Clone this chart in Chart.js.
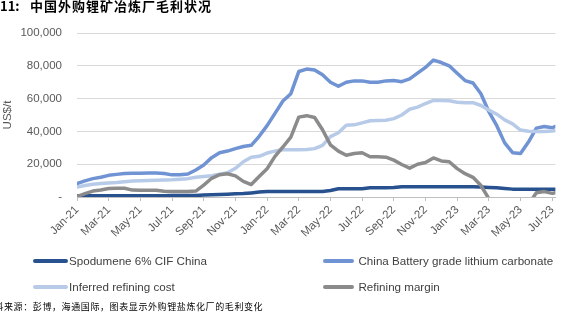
<!DOCTYPE html>
<html><head><meta charset="utf-8">
<script src="https://cdn.jsdelivr.net/npm/chart.js@4.4.0/dist/chart.umd.min.js"></script>
<style>
html,body{margin:0;padding:0;background:#fff;}
#wrap{position:relative;width:564px;height:322px;overflow:hidden;background:#fff;}
canvas{position:absolute;left:0;top:0;}
#title{position:absolute;left:0;top:-1px;font:bold 13px "Noto Sans CJK SC";letter-spacing:1px;color:#000;white-space:nowrap;line-height:14px;}
#title .n{display:inline-block;width:30px;letter-spacing:0;}
#footer{position:absolute;left:-5.6px;top:301px;font:9px "Noto Sans CJK SC";letter-spacing:0.6px;color:#000;white-space:nowrap;line-height:11px;}
.lg{position:absolute;height:14px;font:11.6px "Liberation Sans";color:#404040;white-space:nowrap;line-height:14px;}
.lg .s{position:absolute;top:5.3px;height:3.5px;border-radius:2px;}
.lg .t{position:absolute;top:0;}
</style></head>
<body><div id="wrap"><canvas id="c" width="564" height="322"></canvas><div id="title"><span class="n">11:</span>中国外购锂矿冶炼厂毛利状况</div><div id="legend"></div><div id="footer">料来源：彭博，海通国际，图表显示外购锂盐炼化厂的毛利变化</div></div>
<script>
const dates = [
"2021-01-01","2021-01-16","2021-02-01","2021-02-16","2021-03-01","2021-03-16","2021-04-01","2021-04-16",
"2021-05-01","2021-05-16","2021-06-01","2021-06-16","2021-07-01","2021-07-16","2021-08-01","2021-08-16",
"2021-09-01","2021-09-16","2021-10-01","2021-10-16","2021-11-01","2021-11-16","2021-12-01","2021-12-16",
"2022-01-01","2022-01-16","2022-02-01","2022-02-16","2022-03-01","2022-03-16","2022-04-01","2022-04-16",
"2022-05-01","2022-05-16","2022-06-01","2022-06-16","2022-07-01","2022-07-16","2022-08-01","2022-08-16",
"2022-09-01","2022-09-16","2022-10-01","2022-10-16","2022-11-01","2022-11-16","2022-12-01","2022-12-16",
"2023-01-01","2023-01-16","2023-02-01","2023-02-16","2023-03-01","2023-03-16","2023-04-01","2023-04-16",
"2023-05-01","2023-05-16","2023-06-01","2023-06-16","2023-07-01","2023-07-07"];

const tickLabels = ["Jan-21","Mar-21","May-21","Jul-21","Sep-21","Nov-21","Jan-22","Mar-22",
"May-22","Jul-22","Sep-22","Nov-22","Jan-23","Mar-23","May-23","Jul-23"];

const seriesNames = ["Spodumene 6% CIF China","China Battery grade lithium carbonate","Inferred refining cost","Refining margin"];

const spodumene = [
600,700,800,800,800,800,800,800,800,800,800,800,900,900,900,900,
1200,1400,1500,1700,2000,2100,2500,3000,3300,3300,3300,3300,3300,3300,3300,3300,
4000,5000,5100,5100,5100,5600,5700,5700,5800,6200,6300,6300,6300,6300,6300,6300,
6300,6200,6200,6100,5800,5600,5200,4800,4700,4700,4700,4700,4700,4700];

const carbonate = [
8200,9800,11200,12000,13200,13800,14300,14500,14500,14600,14600,14300,13500,13500,14000,16500,
19500,24000,27000,28000,29500,30800,31500,37000,43500,51000,58500,63000,76500,78000,77500,74500,
70000,67500,70000,70800,70800,70000,70000,70800,71000,70300,72000,75500,79000,83500,82000,80000,
75500,71000,69500,63000,52000,43500,33000,27000,26500,33500,42000,43000,42200,43000];

const refiningCost = [
6100,7000,7800,8200,8600,8800,9300,9800,9900,10000,10200,10400,10500,10800,11200,12000,
12500,13000,13900,14800,17500,21500,24200,24800,26800,28000,28800,28800,28800,29000,29500,31500,
36800,39200,43800,44000,45200,46500,46600,46800,47800,50000,53500,54800,57000,58900,58900,58700,
57800,57500,57500,55800,53000,50500,47000,44600,40800,40100,40000,40000,40300,40500];

const refiningMargin = [
300,2000,3600,4300,5200,5300,5300,4200,4100,4100,4100,3500,3300,3300,3300,3600,
7200,11400,13600,14200,12900,9500,7600,12500,17200,24800,30500,36500,48700,49600,48500,41000,
31800,28000,25500,26500,27000,24500,24500,24300,22500,19800,17600,20000,21000,23800,22000,21500,
17300,14200,12000,7000,-1000,-7000,-14000,-17600,-14500,-4500,2600,3300,2200,2600];

const seriesColors = ["#28518f","#7093d3","#b7cbe9","#8b8b8b"];

function monthIndex(s){
  const [y,m,d] = s.split('-').map(Number);
  return (y-2021)*12 + (m-1) + (d-1)/30;
}
const xs = dates.map(monthIndex);
const allSeries = [spodumene, carbonate, refiningCost, refiningMargin];

const datasets = allSeries.map((vals,i)=>({
  label: seriesNames[i],
  data: vals.map((v,j)=>({x: xs[j], y: v})),
  borderColor: seriesColors[i],
  backgroundColor: seriesColors[i],
  borderWidth: 3.5,
  pointRadius: 0,
  tension: 0,
  borderCapStyle: 'round',
  borderJoinStyle: 'round',
  order: 4 - i
}));

const chart = new Chart(document.getElementById('c'), {
  type: 'line',
  data: { datasets },
  options: {
    responsive: false,
    devicePixelRatio: 1,
    animation: false,
    layout: { padding: { top: 33, right: 6, bottom: 85, left: 0 } },
    plugins: { legend: { display: false }, tooltip: { enabled: false } },
    scales: {
      x: {
        type: 'linear',
        min: 0,
        max: 30.2,
        afterFit: s => { s.height = 40; },
        border: { display: true, color: '#bfbfbf', width: 1 },
        grid: { drawOnChartArea: false, drawTicks: true, tickLength: 4, color: '#bfbfbf' },
        ticks: {
          stepSize: 2,
          includeBounds: false,
          autoSkip: false,
          maxRotation: 45,
          minRotation: 45,
          padding: 2,
          color: '#595959',
          font: { family: 'Liberation Sans', size: 11.5 },
          callback: v => tickLabels[v/2] ?? ''
        }
      },
      y: {
        min: 0,
        max: 100000,
        afterFit: s => { s.width = 77; },
        border: { display: false },
        grid: { color: '#d9d9d9', drawTicks: false, lineWidth: 1 },
        ticks: {
          stepSize: 20000,
          padding: 15,
          color: '#595959',
          font: { family: 'Liberation Sans', size: 11.5 },
          callback: v => v === 0 ? '-' : v.toLocaleString('en-US')
        },
        title: {
          display: true,
          text: 'US$/t',
          color: '#595959',
          font: { family: 'Liberation Sans', size: 11.5 },
          padding: { top: 1, bottom: 0 }
        }
      }
    }
  }
});

// HTML legend built from the chart's datasets (two columns)
const legendPos = [[33,254],[323,254],[33,280],[323,280]];
const sampleW = [35,31,35,31];
const textX = [36,35.5,36,35.5];
const lg = document.getElementById('legend');
chart.data.datasets.forEach((ds,i)=>{
  const d = document.createElement('div');
  d.className = 'lg';
  d.style.left = legendPos[i][0] + 'px';
  d.style.top = legendPos[i][1] + 'px';
  const s = document.createElement('span');
  s.className = 's';
  s.style.left = '0px';
  s.style.width = sampleW[i] + 'px';
  s.style.background = ds.borderColor;
  const t = document.createElement('span');
  t.className = 't';
  t.style.left = textX[i] + 'px';
  t.textContent = ds.label;
  d.appendChild(s); d.appendChild(t);
  lg.appendChild(d);
});
</script>
</body></html>
